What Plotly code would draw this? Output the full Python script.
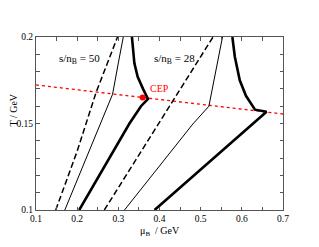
import plotly.graph_objects as go

# s/nB = 50 curves
mu_50_dash = [0.148, 0.200, 0.246, 0.275, 0.298]
T_50_dash = [0.100, 0.134, 0.168, 0.186, 0.200]
mu_50_thin = [0.170, 0.286, 0.300, 0.312]
T_50_thin = [0.100, 0.1669, 0.185, 0.200]
mu_50_thick = [0.205, 0.327, 0.355, 0.372, 0.360, 0.347, 0.339, 0.335, 0.333]
T_50_thick = [0.100, 0.150, 0.160, 0.1642, 0.170, 0.177, 0.1848, 0.194, 0.200]

# s/nB = 28 curves
mu_28_dash = [0.266, 0.398, 0.530]
T_28_dash = [0.100, 0.150, 0.200]
mu_28_thin = [0.315, 0.481, 0.520, 0.537, 0.553]
T_28_thin = [0.100, 0.1497, 0.160, 0.180, 0.200]
mu_28_thick = [0.388, 0.628, 0.660, 0.632, 0.610, 0.595, 0.583, 0.577]
T_28_thick = [0.100, 0.1497, 0.1568, 0.158, 0.166, 0.175, 0.1886, 0.200]

# crossover / first-order line (red dotted)
mu_line = [0.1, 0.7]
T_line = [0.1723, 0.1555]

cep_mu = [0.359]
cep_T = [0.165]

x_ticks = [0.1, 0.15, 0.2, 0.25, 0.3, 0.35, 0.4, 0.45, 0.5, 0.55, 0.6, 0.65, 0.7]
x_labels = ["0.1", "", "0.2", "", "0.3", "", "0.4", "", "0.5", "", "0.6", "", "0.7"]
y_ticks = [0.1, 0.11, 0.12, 0.13, 0.14, 0.15, 0.16, 0.17, 0.18, 0.19, 0.2]
y_labels = ["0.1", "", "", "", "", "0.15", "", "", "", "", "0.2"]

fig = go.Figure()

def add(x, y, width, dash="solid", color="black"):
    fig.add_trace(go.Scatter(x=x, y=y, mode="lines",
                             line=dict(color=color, width=width, dash=dash),
                             showlegend=False, hoverinfo="skip"))

add(mu_line, T_line, 1.3, "dot", "red")
add(mu_50_dash, T_50_dash, 1.5, "6px,3px")
add(mu_50_thin, T_50_thin, 1)
add(mu_50_thick, T_50_thick, 2.6)
add(mu_28_dash, T_28_dash, 1.5, "6px,3px")
add(mu_28_thin, T_28_thin, 1)
add(mu_28_thick, T_28_thick, 2.6)

fig.add_trace(go.Scatter(x=cep_mu, y=cep_T, mode="markers",
                         marker=dict(color="red", size=6),
                         showlegend=False, hoverinfo="skip"))

serif = "Liberation Serif, Times New Roman, serif"
tickfont = dict(family=serif, size=9.5, color="black")
labfont = dict(family=serif, size=11, color="black")
titlefont = dict(family=serif, size=10, color="black")

fig.add_annotation(x=0.373, y=0.1705, text="CEP", showarrow=False,
                   xanchor="left", yanchor="middle",
                   font=dict(family=serif, size=10, color="red"))
fig.add_annotation(x=0.151, y=0.1875, text="s/n<sub>B</sub> = 50", showarrow=False,
                   xanchor="left", yanchor="middle", font=labfont)
fig.add_annotation(x=0.382, y=0.1875, text="s/n<sub>B</sub> = 28", showarrow=False,
                   xanchor="left", yanchor="middle", font=labfont)

# axis titles
fig.add_annotation(xref="paper", yref="paper", x=0.502, y=-0.125,
                   text="μ<sub>B</sub>  / GeV", showarrow=False,
                   xanchor="center", yanchor="middle", font=titlefont)
fig.add_annotation(xref="paper", yref="paper", x=-0.095, y=0.578,
                   text="T / GeV", showarrow=False, textangle=-90,
                   xanchor="center", yanchor="middle", font=titlefont)

axcommon = dict(showgrid=False, zeroline=False, showline=True, linecolor="#555",
                linewidth=1, mirror="ticks", ticks="inside", ticklen=3.5,
                tickcolor="#555", tickfont=tickfont, automargin=False)

fig.update_xaxes(range=[0.1, 0.7], tickvals=x_ticks, ticktext=x_labels, **axcommon)
fig.update_yaxes(range=[0.1, 0.2], tickvals=y_ticks, ticktext=y_labels, **axcommon)

fig.update_layout(width=311, height=239, margin=dict(l=28, r=36, t=29, b=37),
                  plot_bgcolor="white", paper_bgcolor="white")

fig.write_html("out.html")
